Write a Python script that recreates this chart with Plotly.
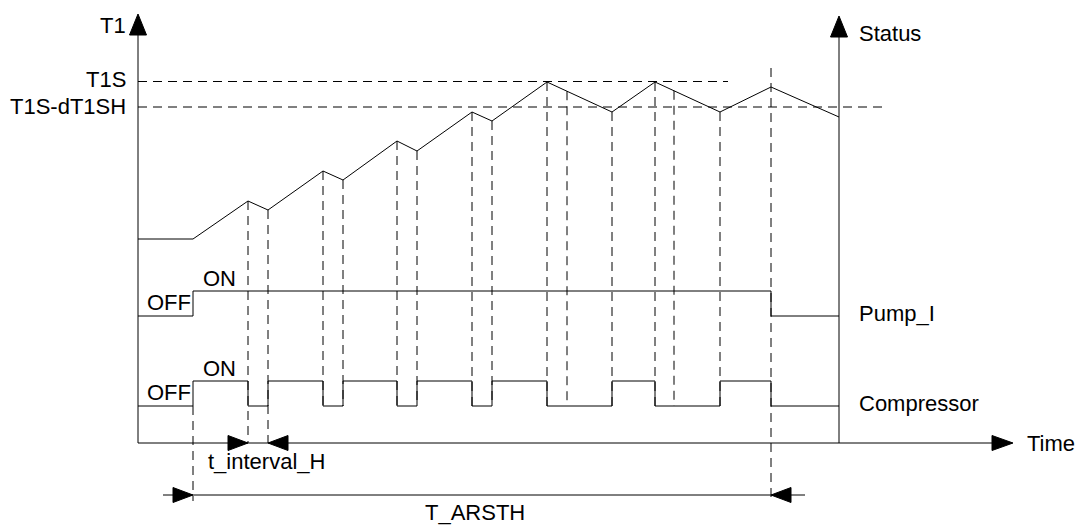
import numpy as np
import plotly.graph_objects as go

# ---------------- data (schematic units) ----------------
# temperature curve T1
t_curve = [0, 55, 110, 130, 185, 205, 259, 279, 334, 354, 409, 474, 517, 582, 633, 701]
T1_curve = [204, 204, 242, 233, 272, 263, 302, 292, 331, 322, 361, 331, 361, 331, 356, 326]

T1S = 361.5
T1S_dT1SH = 336

# status signals (0 = OFF, 1 = ON)
pump_t = [0, 55, 633, 701]
pump_state = [0, 1, 0, 0]
comp_t = [0, 55, 110, 130, 185, 205, 259, 279, 334, 354, 409, 474, 517, 582, 633, 701]
comp_state = [0, 1, 0, 1, 0, 1, 0, 1, 0, 1, 0, 1, 0, 1, 0, 0]

pump_levels = [127, 152]   # OFF, ON
comp_levels = [37, 62]     # OFF, ON

# event markers (vertical dashed lines)
marker_t = [110, 130, 185, 205, 259, 279, 334, 354, 409, 429, 474, 517, 536, 582]
t_start = 55
t_end = 633
t_axis_end = 701

interval_start, interval_end = 110, 130

# ---------------- styling ----------------
FONT = dict(family="Liberation Sans, Arial, sans-serif", size=22, color="black")
LINE = dict(color="black", width=1)
DASH = dict(color="black", width=1, dash="9px,6px")

fig = go.Figure()


def seg(xs, ys, line):
    fig.add_trace(go.Scatter(x=xs, y=ys, mode="lines", line=line,
                             hoverinfo="skip", showlegend=False))


def tri(tip_x, tip_y, direction, length=21, half=8):
    dx, dy = direction
    bx, by = tip_x - dx * length, tip_y - dy * length
    px, py = -dy * half, dx * half
    fig.add_trace(go.Scatter(
        x=[tip_x, bx + px, bx - px, tip_x],
        y=[tip_y, by + py, by - py, tip_y],
        mode="lines", fill="toself", fillcolor="black",
        line=dict(color="black", width=1), hoverinfo="skip", showlegend=False))


# horizontal threshold lines
seg([0, 590], [T1S, T1S], DASH)
seg([0, 744], [T1S_dT1SH, T1S_dT1SH], DASH)

# vertical event lines
for t in marker_t:
    top = float(np.interp(t, t_curve, T1_curve))
    bottom = 0 if t in (interval_start, interval_end) else comp_levels[0]
    seg([t, t], [top, bottom], DASH)
seg([t_start, t_start], [comp_levels[0], -58], DASH)
seg([t_end, t_end], [375, -54], DASH)

# temperature curve
seg(t_curve, T1_curve, LINE)

# status signals
fig.add_trace(go.Scatter(x=pump_t, y=[pump_levels[s] for s in pump_state],
                         mode="lines", line=dict(color="black", width=1, shape="hv"),
                         hoverinfo="skip", showlegend=False))
fig.add_trace(go.Scatter(x=comp_t, y=[comp_levels[s] for s in comp_state],
                         mode="lines", line=dict(color="black", width=1, shape="hv"),
                         hoverinfo="skip", showlegend=False))

# axes
seg([0, 0], [0, 410], LINE)
tri(0, 429, (0, 1), 21, 8.5)
seg([t_axis_end, t_axis_end], [0, 408], LINE)
tri(t_axis_end, 427, (0, 1), 21, 8.5)
seg([0, 856], [0, 0], LINE)
tri(875, 0, (1, 0), 21, 7.5)

# t_interval_H arrows
tri(interval_start, 0, (1, 0), 20, 7.5)
tri(interval_end, 0, (-1, 0), 20, 7.5)

# T_ARSTH dimension
seg([25, 667], [-52, -52], LINE)
tri(t_start, -52, (1, 0), 20, 7.5)
tri(t_end, -52, (-1, 0), 20, 7.5)

# texts
texts = [
    ("T1", -10, 418, "right"),
    ("T1S", -10, 364, "right"),
    ("T1S-dT1SH", -10, 337, "right"),
    ("Status", 719, 410, "left"),
    ("ON", 63, 165, "left"),
    ("OFF", 7, 141, "left"),
    ("ON", 63, 75, "left"),
    ("OFF", 7, 51, "left"),
    ("Pump_I", 719, 130, "left"),
    ("Compressor", 719, 40, "left"),
    ("Time", 887, 0, "left"),
    ("t_interval_H", 128, -18, "center"),
    ("T_ARSTH", 337, -69, "center"),
]
for txt, x, y, anchor in texts:
    fig.add_annotation(x=x, y=y, text=txt, showarrow=False, xanchor=anchor,
                       yanchor="middle", font=FONT)

fig.update_layout(
    width=1075, height=525,
    margin=dict(l=0, r=0, t=0, b=0),
    paper_bgcolor="white", plot_bgcolor="white",
    xaxis=dict(range=[-138, 937], visible=False, fixedrange=True),
    yaxis=dict(range=[-82, 443], visible=False, fixedrange=True),
    showlegend=False,
)

fig.write_html(
    "out.html",
    config={"displayModeBar": False},
    post_script="document.body.style.margin='0';document.body.style.overflow='hidden';",
)
